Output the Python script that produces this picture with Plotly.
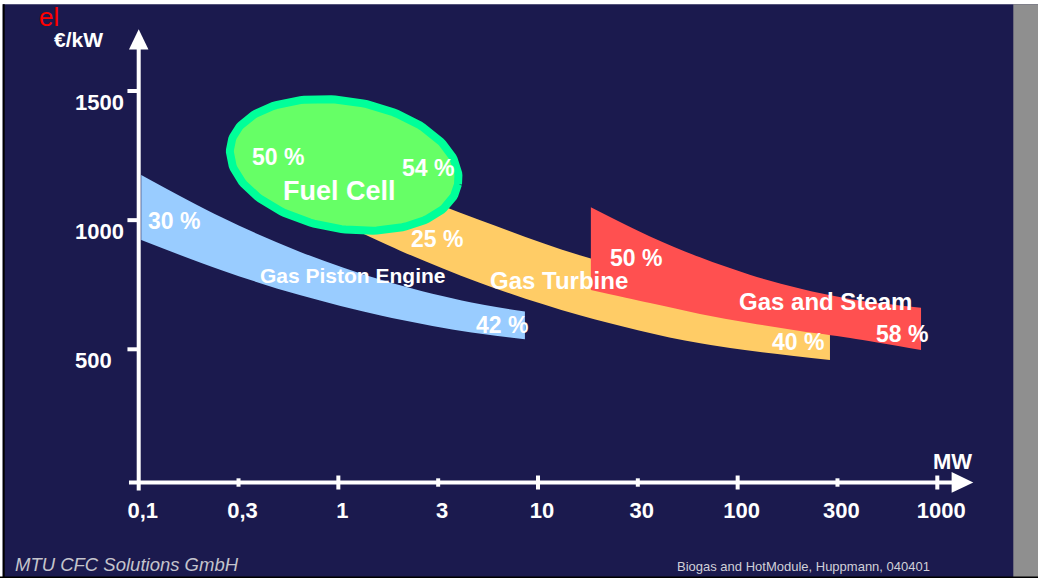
import numpy as np
import plotly.graph_objects as go

# ---------------- data ----------------
x_tick_labels = ["0,1", "0,3", "1", "3", "10", "30", "100", "300", "1000"]
y_tick_values = [500, 1000, 1500]

piston_mw = [0.103, 0.26, 0.64, 1.65, 4.15, 8.6]
piston_upper = [1175, 1011, 878, 768, 689, 646]
piston_lower = [923, 806, 710, 630, 571, 539]

turbine_mw = [0.91, 2.04, 5.1, 16.2, 65, 290]
turbine_upper = [1241, 1121, 1001, 864, 740, 621]
turbine_lower = [1008, 882, 758, 632, 523, 459]

steam_mw = [18.4, 36.4, 64.8, 115, 205, 366, 829]
steam_upper = [1050, 937, 856, 789, 735, 695, 661]
steam_lower = [730, 679, 637, 602, 571, 544, 497]

fuel_cell_center_mw = 1.07
fuel_cell_center_kw = 1214
fuel_cell_axis_major = (0.570, -75)    # (decades of MW, €/kW)
fuel_cell_axis_minor = (-0.054, -244)

# text labels: (text, MW, €/kW, size)
labels = [
    ("30 %", 0.150, 997, 23),
    ("50 %", 0.500, 1245, 23),
    ("54 %", 2.81, 1201, 23),
    ("Fuel Cell", 1.013, 1114, 27),
    ("25 %", 3.11, 928, 23),
    ("Gas Piston Engine", 1.18, 785, 21),
    ("42 %", 6.58, 594, 23),
    ("Gas Turbine", 12.7, 765, 24),
    ("50 %", 31.1, 855, 23),
    ("Gas and Steam", 275, 686, 24),
    ("40 %", 201, 529, 23),
    ("58 %", 663, 560, 23),
]

# ---------------- styling / geometry ----------------
NAVY = "#1b1a4e"
WHITE = "#ffffff"
FONT = "Liberation Sans, Arial, sans-serif"
W, H = 1038, 578
X_RANGE = [-1.6947, 3.5044]      # log10 MW
Y_RANGE = [-385.4, 1852.3]       # €/kW

AX_X = 0.1          # y-axis sits at 0.1 MW
AX_Y = -15.7        # x-axis sits slightly below 0
Y_AX_BOTTOM = -47
Y_AX_TOP = 1700
X_AX_LEFT = 0.0894
X_AX_RIGHT = 1250

fig = go.Figure()


def band(mw, upper, lower, color):
    fig.add_trace(go.Scatter(x=mw, y=upper, mode="lines",
                             line=dict(width=0, color=color, shape="spline", smoothing=1.0),
                             hoverinfo="skip"))
    fig.add_trace(go.Scatter(x=mw, y=lower, mode="lines", fill="tonexty",
                             fillcolor=color,
                             line=dict(width=0, color=color, shape="spline", smoothing=1.0),
                             hoverinfo="skip"))


band(piston_mw, piston_upper, piston_lower, "#99ccff")
band(turbine_mw, turbine_upper, turbine_lower, "#ffcc66")
band(steam_mw, steam_upper, steam_lower, "#ff5050")

# fuel cell ellipse
t = np.linspace(0, 2 * np.pi, 181)
lc = np.log10(fuel_cell_center_mw)
ex = 10 ** (lc + fuel_cell_axis_major[0] * np.cos(t) + fuel_cell_axis_minor[0] * np.sin(t))
ey = fuel_cell_center_kw + fuel_cell_axis_major[1] * np.cos(t) + fuel_cell_axis_minor[1] * np.sin(t)
fig.add_trace(go.Scatter(x=ex, y=ey, mode="lines", fill="toself", fillcolor="#66ff66",
                         line=dict(color="#00ff99", width=8), hoverinfo="skip"))

# axes lines
fig.add_trace(go.Scatter(x=[AX_X, AX_X], y=[Y_AX_BOTTOM, Y_AX_TOP], mode="lines",
                         line=dict(color=WHITE, width=4), hoverinfo="skip"))
fig.add_trace(go.Scatter(x=[X_AX_LEFT, X_AX_RIGHT], y=[AX_Y, AX_Y], mode="lines",
                         line=dict(color=WHITE, width=4), hoverinfo="skip"))
# arrow heads
fig.add_trace(go.Scatter(x=[0.0894, 0.1119, 0.1, 0.0894], y=[1661, 1661, 1739, 1661],
                         mode="lines", fill="toself", fillcolor=WHITE,
                         line=dict(width=0, color=WHITE), hoverinfo="skip"))
fig.add_trace(go.Scatter(x=[1180, 1515, 1180, 1180], y=[25, AX_Y, -55, 25],
                         mode="lines", fill="toself", fillcolor=WHITE,
                         line=dict(width=0, color=WHITE), hoverinfo="skip"))

# tick marks
tick_pos = [10 ** (-1 + i / 2) for i in range(len(x_tick_labels))]
major = [p for i, p in enumerate(tick_pos) if i % 2 == 0 and i > 0]
minor = [p for i, p in enumerate(tick_pos) if i % 2 == 1]
fig.add_trace(go.Scatter(x=major, y=[AX_Y] * len(major), mode="markers",
                         marker=dict(symbol="line-ns", size=10, color=WHITE,
                                     line=dict(color=WHITE, width=4)), hoverinfo="skip"))
fig.add_trace(go.Scatter(x=minor, y=[AX_Y] * len(minor), mode="markers",
                         marker=dict(symbol="line-ns", size=6, color=WHITE,
                                     line=dict(color=WHITE, width=4)), hoverinfo="skip"))
fig.add_trace(go.Scatter(x=[0.0937] * len(y_tick_values), y=y_tick_values, mode="markers",
                         marker=dict(symbol="line-ew", size=8, color=WHITE,
                                     line=dict(color=WHITE, width=4)), hoverinfo="skip"))

annotations = []
for text, mw, kw, size in labels:
    annotations.append(dict(x=np.log10(mw), y=kw, xref="x", yref="y", text=text,
                            showarrow=False, xanchor="center", yanchor="middle",
                            font=dict(family=FONT, size=size, color=WHITE, weight="bold")))

annotations += [
    dict(x=78 / W, y=1 - 39 / H, xref="paper", yref="paper", text="€/kW", showarrow=False,
         xanchor="center", yanchor="middle",
         font=dict(family=FONT, size=21, color=WHITE, weight="bold")),
    dict(x=952 / W, y=1 - 461 / H, xref="paper", yref="paper", text="MW", showarrow=False,
         xanchor="center", yanchor="middle",
         font=dict(family=FONT, size=22, color=WHITE, weight="bold")),
    dict(x=37 / W, y=1 - 17 / H, xref="paper", yref="paper", text="el", showarrow=False,
         xanchor="left", yanchor="middle",
         font=dict(family=FONT, size=26, color="#ff0000")),
    dict(x=13 / W, y=1 - 564 / H, xref="paper", yref="paper", text="MTU CFC Solutions GmbH",
         showarrow=False, xanchor="left", yanchor="middle",
         font=dict(family=FONT, size=18.5, color="#c4c4cc", style="italic")),
    dict(x=675 / W, y=1 - 566 / H, xref="paper", yref="paper",
         text="Biogas and HotModule, Huppmann, 040401",
         showarrow=False, xanchor="left", yanchor="middle",
         font=dict(family=FONT, size=13, color="#d0d0d8")),
]

shapes = [
    dict(type="rect", xref="paper", yref="paper", x0=0, x1=1, y0=1 - 4.3 / H, y1=1,
         fillcolor=WHITE, line=dict(width=0), layer="above"),
    dict(type="rect", xref="paper", yref="paper", x0=0, x1=2.7 / W, y0=0, y1=1,
         fillcolor=WHITE, line=dict(width=0), layer="above"),
    dict(type="rect", xref="paper", yref="paper", x0=2.7 / W, x1=4.7 / W, y0=0, y1=1 - 4.3 / H,
         fillcolor="#000000", line=dict(width=0), layer="above"),
    dict(type="rect", xref="paper", yref="paper", x0=1013.3 / W, x1=1, y0=0, y1=1 - 4.3 / H,
         fillcolor="#8f8f8f", line=dict(width=0), layer="above"),
    dict(type="rect", xref="paper", yref="paper", x0=0, x1=1, y0=0, y1=1.5 / H,
         fillcolor="#000000", line=dict(width=0), layer="above"),
]

fig.update_layout(
    width=W, height=H, autosize=False,
    margin=dict(l=0, r=0, t=0, b=0, pad=0),
    paper_bgcolor=NAVY, plot_bgcolor=NAVY,
    showlegend=False, hovermode=False,
    annotations=annotations, shapes=shapes,
    xaxis=dict(type="log", range=X_RANGE, domain=[0, 1], anchor="free", position=0.1436,
               showgrid=False, zeroline=False, showline=False, ticks="",
               ticklabelshift=4,
               tickvals=tick_pos, ticktext=x_tick_labels,
               tickfont=dict(family=FONT, size=22, color=WHITE, weight="bold")),
    yaxis=dict(range=Y_RANGE, domain=[0, 1], anchor="free", position=71 / W,
               showgrid=False, zeroline=False, showline=False, ticks="",
               ticklabelposition="inside", ticklabelshift=11,
               tickvals=y_tick_values, ticktext=[str(v) for v in y_tick_values],
               tickfont=dict(family=FONT, size=22, color=WHITE, weight="bold")),
)

fig.write_html("out.html", config={"displayModeBar": False},
               post_script="document.body.style.margin='0';document.body.style.overflow='hidden';")
